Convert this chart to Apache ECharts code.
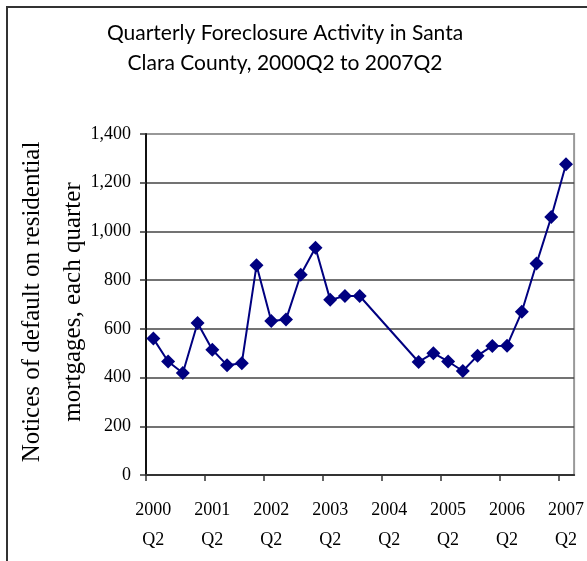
<!DOCTYPE html>
<html>
<head>
<meta charset="utf-8">
<script src="https://cdn.jsdelivr.net/npm/echarts@6/dist/echarts.min.js"></script>
<style>
  html, body { margin: 0; padding: 0; background: #fff; }
  #chart { width: 587px; height: 561px; }
</style>
</head>
<body>
<div id="chart"></div>
<script>
// Quarters from 2000Q2 through 2007Q2
const quarters = [
  '2000Q2','2000Q3','2000Q4','2001Q1','2001Q2','2001Q3','2001Q4','2002Q1',
  '2002Q2','2002Q3','2002Q4','2003Q1','2003Q2','2003Q3','2003Q4','2004Q1',
  '2004Q2','2004Q3','2004Q4','2005Q1','2005Q2','2005Q3','2005Q4','2006Q1',
  '2006Q2','2006Q3','2006Q4','2007Q1','2007Q2'
];

// Notices of default filed each quarter (null = no figure reported)
const notices = [
  560, 466, 419, 624, 514, 451, 459, 861,
  632, 638, 822, 933, 719, 735, 735, null,
  null, null, 464, 500, 466, 427, 490, 530,
  531, 670, 868, 1059, 1276
];

// Year labels shown under each Q2 position
const yearLabels = ['2000', '2001', '2002', '2003', '2004', '2005', '2006', '2007'];
const yTicks = [0, 200, 400, 600, 800, 1000, 1200, 1400];

// Each quarter occupies one unit on the x scale; points sit mid-unit
const points = [];
quarters.forEach(function (q, i) {
  if (notices[i] !== null) points.push([i + 0.5, notices[i]]);
});
const tickPositions = yearLabels.map(function (_, k) { return k * 4; });
const labelPositions = yearLabels.map(function (_, k) { return k * 4 + 0.5; });

function withCommas(v) {
  return String(v).replace(/\B(?=(\d{3})+(?!\d))/g, ',');
}

const serif = '"Liberation Serif", "Times New Roman", serif';
const chart = echarts.init(document.getElementById('chart'), null, { renderer: 'canvas' });

chart.setOption({
  animation: false,
  backgroundColor: '#fff',
  grid: {
    left: 146, right: 12, top: 134, bottom: 86,
    show: true, borderColor: '#999', borderWidth: 2, backgroundColor: 'transparent'
  },
  xAxis: {
    type: 'value',
    min: 0,
    max: 29.05,
    interval: 4,
    axisLine: { show: true, onZero: false, lineStyle: { color: '#333', width: 2 } },
    axisTick: { show: true, length: 6, inside: false, customValues: tickPositions,
      lineStyle: { color: '#333', width: 1.5 } },
    axisLabel: {
      customValues: labelPositions,
      formatter: function (v) {
        return yearLabels[Math.round((v - 0.5) / 4)] + '\nQ2';
      },
      fontFamily: serif, fontSize: 18, lineHeight: 30, color: '#000', margin: 20
    },
    splitLine: { show: false }
  },
  yAxis: {
    type: 'value',
    min: yTicks[0],
    max: yTicks[yTicks.length - 1],
    interval: 200,
    axisLine: { show: true, lineStyle: { color: '#111', width: 2 } },
    axisTick: { show: true, length: 6, lineStyle: { color: '#333', width: 1.5 } },
    axisLabel: {
      formatter: withCommas,
      fontFamily: serif, fontSize: 18, color: '#000', margin: 15
    },
    splitLine: {
      show: true,
      lineStyle: {
        color: ['#444', '#444', '#444', '#444', '#444', '#444', '#444', '#999'],
        width: 1.5
      }
    }
  },
  graphic: [
    {
      type: 'polyline',
      shape: { points: [[7, 600], [7, 7], [600, 7]] },
      style: { stroke: '#333', lineWidth: 2, fill: null },
      silent: true
    },
    {
      type: 'text',
      x: 285, y: 48,
      style: {
        text: 'Quarterly Foreclosure Activity in Santa\nClara County, 2000Q2 to 2007Q2',
        font: '21px Lato, "Open Sans", sans-serif',
        lineHeight: 30,
        align: 'center', verticalAlign: 'middle',
        fill: '#000'
      }
    },
    {
      type: 'text',
      x: 53, y: 302,
      rotation: Math.PI / 2,
      style: {
        text: 'Notices of default on residential\nmortgages, each quarter',
        font: '25px ' + serif,
        lineHeight: 41,
        align: 'center', verticalAlign: 'middle',
        fill: '#000'
      }
    }
  ],
  series: [
    {
      name: 'Notices of default',
      type: 'line',
      data: points,
      symbol: 'diamond',
      symbolSize: 14,
      lineStyle: { color: '#000080', width: 2 },
      itemStyle: { color: '#000080' },
      z: 3
    }
  ]
});
</script>
</body>
</html>
